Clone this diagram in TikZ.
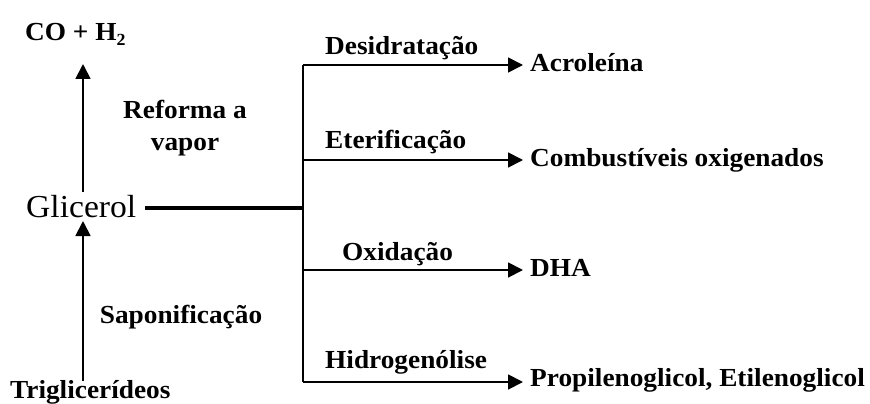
\documentclass[tikz,border=0pt]{standalone}
\usepackage{fontspec}
\setmainfont[FakeStretch=1.05]{Liberation Serif}
\usetikzlibrary{arrows.meta}
\tikzset{
  lbl/.style={inner sep=0pt, font=\fontsize{26}{31}\selectfont\bfseries, anchor=base west},
  lblc/.style={inner sep=0pt, font=\fontsize{26}{31}\selectfont\bfseries, anchor=base, align=center},
  main/.style={inner sep=0pt, font=\fontsize{32}{36}\selectfont, anchor=base west},
  conn/.style={line width=1.8pt, draw=black},
  arr/.style={conn, -{Triangle[length=15pt,width=15pt]}},
  thickln/.style={line width=3.8pt, draw=black}
}
\begin{document}
\begin{tikzpicture}[x=1pt,y=-1pt]
\useasboundingbox (0,0) rectangle (870,404);
% main nodes
\node[lbl] (co) at (25,41) {CO + H\raisebox{-5pt}{\fontsize{17}{17}\selectfont 2}};
\node[main] (glic) at (26,217) {Glicerol};
\node[lbl] (trig) at (10,398) {Triglicerídeos};
% side labels
\node[lblc] (ref1) at (185,118) {Reforma a};
\node[lblc] (ref2) at (185,150) {vapor};
\node[lblc] (sap) at (181,323) {Saponificação};
% junction coordinates
\coordinate (upbot) at (83,192);
\coordinate (uptop) at (83,64);
\coordinate (lowbot) at (83,381);
\coordinate (lowtop) at (83,221);
\coordinate (j) at (303,208);
\coordinate (b1) at (303,65);
\coordinate (b2) at (303,160);
\coordinate (b3) at (303,270);
\coordinate (b4) at (303,382);
% targets
\node[lbl] (t1) at (530,71) {Acroleína};
\node[lbl] (t2) at (530,166) {Combustíveis oxigenados};
\node[lbl] (t3) at (530,276) {DHA};
\node[lbl] (t4) at (530,386) {Propilenoglicol, Etilenoglicol};
% branch labels
\node[lbl] (l1) at (325,55) {Desidratação};
\node[lbl] (l2) at (325,148) {Eterificação};
\node[lbl] (l3) at (342,260) {Oxidação};
\node[lbl] (l4) at (325,368) {Hidrogenólise};
% connectors
\draw[arr] (upbot) -- (uptop);
\draw[arr] (lowbot) -- (lowtop);
\draw[thickln] ([xshift=9pt]glic.east |- j) -- (j);
\draw[conn] (b1) -- (b4);
\draw[arr] (b1) -- ([xshift=-7pt]b1 -| t1.west);
\draw[arr] (b2) -- ([xshift=-7pt]b2 -| t2.west);
\draw[arr] (b3) -- ([xshift=-7pt]b3 -| t3.west);
\draw[arr] (b4) -- ([xshift=-7pt]b4 -| t4.west);
\end{tikzpicture}
\end{document}
